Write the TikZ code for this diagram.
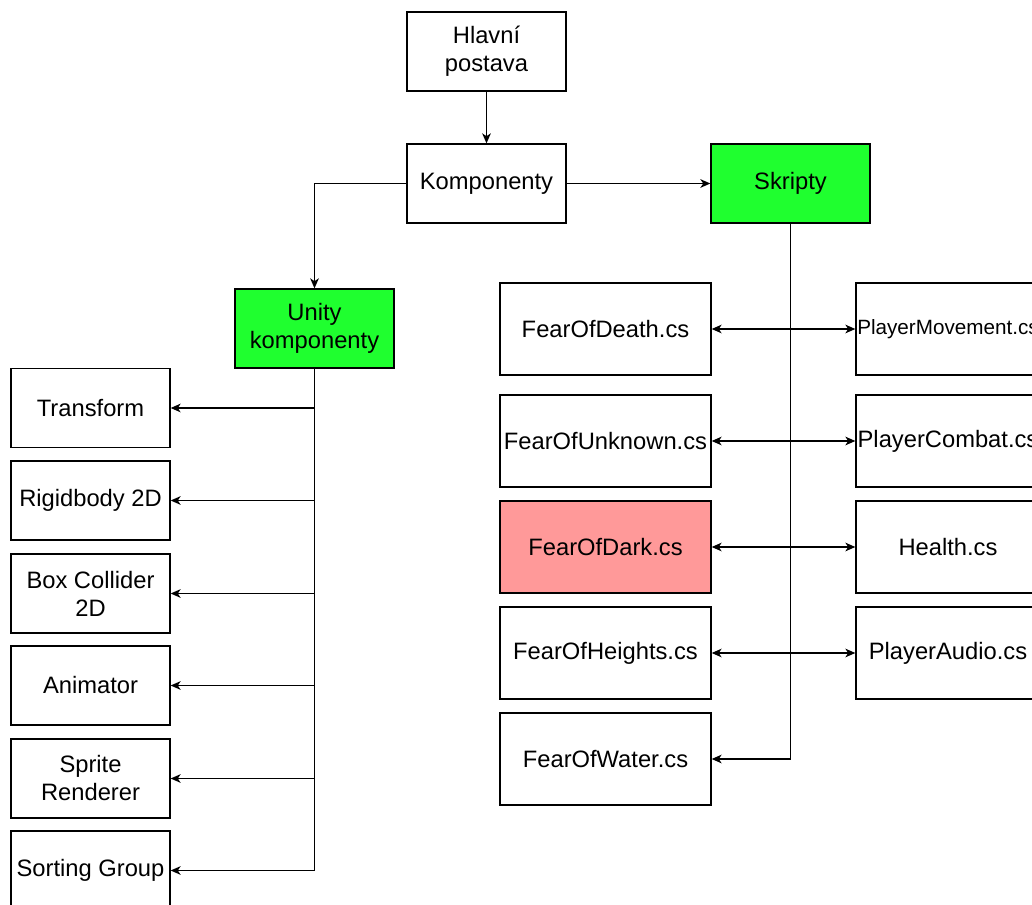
\documentclass[tikz,border=0pt]{standalone}
\usepackage{fontspec}
\setmainfont{Liberation Sans}
\usetikzlibrary{arrows.meta}
\definecolor{boxgreen}{HTML}{1FFF2F}
\definecolor{boxred}{HTML}{FF9999}
\tikzset{
  box/.style={draw=black, line width=1pt, fill=white, inner sep=0pt, align=center,
    font=\fontsize{17.8}{21}\selectfont},
  smallbox/.style={box, minimum width=119.25pt, minimum height=59.25pt},
  midbox/.style={box, minimum width=158.25pt, minimum height=69pt},
  rightbox/.style={box, minimum width=138pt, minimum height=69pt},
  conn/.style={line width=1pt, draw=black},
  arr/.style={conn, -{Stealth[length=7.5pt,width=6.5pt,inset=2.2pt]}},
  darr/.style={conn, {Stealth[length=7.5pt,width=6.5pt,inset=2.2pt]}-{Stealth[length=7.5pt,width=6.5pt,inset=2.2pt]}},
}
\begin{document}
\begin{tikzpicture}[x=0.75pt,y=-0.75pt]
\useasboundingbox (0,0) rectangle (1032,905);
\clip (0,0) rectangle (1032,905);
\fill[white] (0,0) rectangle (1032,905);
% top
\node[smallbox] (hp) at (486.5,51.5) {Hlavní\\postava};
\node[smallbox] (komp) at (486.5,183.5) {Komponenty};
\node[smallbox, fill=boxgreen] (skr) at (790.5,183.5) {Skripty};
\node[smallbox, fill=boxgreen] (unity) at (314.5,328.5) {Unity\\komponenty};
% left column
\node[smallbox] (tr) at (90.5,408) {Transform};
\node[smallbox] (rb) at (90.5,500.5) {Rigidbody 2D};
\node[smallbox] (bc) at (90.5,593.5) {Box Collider\\2D};
\node[smallbox] (an) at (90.5,685.5) {Animator};
\node[smallbox] (sr) at (90.5,778.5) {Sprite\\Renderer};
\node[smallbox] (sg) at (90.5,870.5) {Sorting Group};
% middle column
\node[midbox] (fd) at (605.5,329) {FearOfDeath.cs};
\node[midbox] (fu) at (605.5,441) {FearOfUnknown.cs};
\node[midbox, fill=boxred] (fk) at (605.5,547) {FearOfDark.cs};
\node[midbox] (fh) at (605.5,653) {FearOfHeights.cs};
\node[midbox] (fw) at (605.5,759) {FearOfWater.cs};
% right column
\node[rightbox] (pm) at (948,329) {};
\node[font=\fontsize{15.5}{18}\selectfont, inner sep=0pt] (pmt) at (pm.center) {PlayerMovement.cs};
\node[rightbox] (pc) at (948,441) {PlayerCombat.cs};
\node[rightbox] (he) at (948,547) {Health.cs};
\node[rightbox] (pa) at (948,653) {PlayerAudio.cs};
% connectors
\draw[arr] (hp.south) -- (komp.north);
\draw[arr] (komp.east) -- (skr.west);
\draw[arr] (komp.west) -| (unity.north);
\draw[arr] (unity.south) |- (sg.east);
\foreach \n in {tr,rb,bc,an,sr} {
  \draw[arr] (unity.south |- \n.east) -- (\n.east);
}
\draw[arr] (skr.south) |- (fw.east);
\draw[darr] (fd.east) -- (pm.west);
\draw[darr] (fu.east) -- (pc.west);
\draw[darr] (fk.east) -- (he.west);
\draw[darr] (fh.east) -- (pa.west);
\end{tikzpicture}
\end{document}
